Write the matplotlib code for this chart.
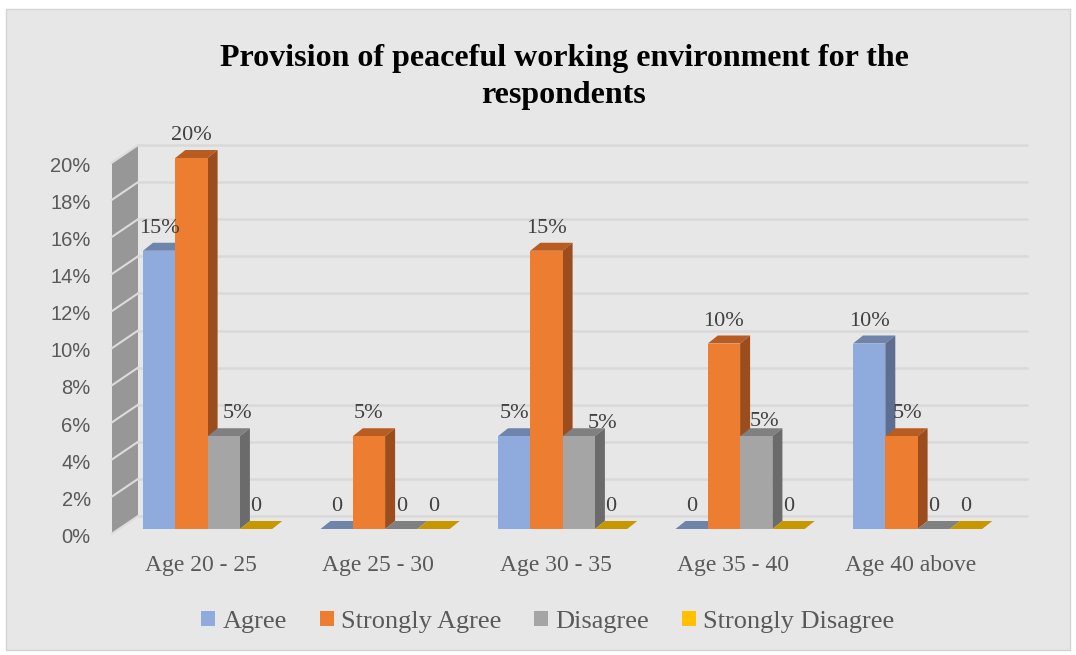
import matplotlib
matplotlib.use("Agg")
import matplotlib.pyplot as plt
from matplotlib.patches import Polygon, Rectangle, Patch

categories = ["Age 20 - 25", "Age 25 - 30", "Age 30 - 35", "Age 35 - 40", "Age 40 above"]
series_names = ["Agree", "Strongly Agree", "Disagree", "Strongly Disagree"]
agree = [15, 0, 5, 0, 10]
strongly_agree = [20, 5, 15, 10, 5]
disagree = [5, 0, 5, 5, 0]
strongly_disagree = [0, 0, 0, 0, 0]
yticks = [0, 2, 4, 6, 8, 10, 12, 14, 16, 18, 20]

series = [agree, strongly_agree, disagree, strongly_disagree]

# front / top / side shades for the fake 3d look
front = ["#8faadc", "#ed7d31", "#a5a5a5", "#ffc000"]
top = ["#6f84ab", "#b95c22", "#808080", "#c79700"]
side = ["#5d6e91", "#9b4d1d", "#6b6b6b", "#a67e00"]

# a few labels that Excel pushed aside (pixels)
label_nudge = {(0, 2): (14, 0), (2, 2): (24, -10), (3, 2): (8, -8), (4, 1): (6, 0)}

W, H = 1076, 655
fig = plt.figure(figsize=(W / 100, H / 100), dpi=100)
fig.patch.set_facecolor("white")
fig.patches.append(Rectangle((6 / W, 5 / H), 1064 / W, 641 / H, transform=fig.transFigure,
                             facecolor="#e7e7e7", edgecolor="#d4d4d4", lw=1, zorder=-1))

# axes mapped so that one group = 177.5 px, one percent = 18.55 px
ax = fig.add_axes([40 / W, 95 / H, 1000 / W, 440 / H])
px_x, px_y = 177.5, 18.55
ax.set_xlim((40 - 207.6) / px_x, (1040 - 207.6) / px_x)
ax.set_ylim(-(560 - 529) / px_y, (529 - 120) / px_y)
ax.axis("off")

bw = 0.182
ddx, ddy = 10 / px_x, 8 / px_y          # bar depth
wall_front, wall_back = -0.25, 0.70     # y shift of front/back planes
wx0, wx1 = (112 - 207.6) / px_x, (138 - 207.6) / px_x
x_end = (1027 - 207.6) / px_x

# left wall
ax.add_patch(Polygon([(wx0, wall_front), (wx1, wall_back), (wx1, 20 + wall_back),
                      (wx0, 20 + wall_front)], closed=True, facecolor="#979797",
                     edgecolor="none", zorder=1, clip_on=False))
for v in yticks:
    ax.plot([wx0, wx1], [v + wall_front, v + wall_back], color="#dcdcdc", lw=1.5, zorder=2)
    ax.plot([wx1, x_end], [v + wall_back, v + wall_back], color="#d9d9d9", lw=1.8, zorder=1)
    ax.text(wx0 - 0.12, v - 0.45, f"{v}%", ha="right", va="center", fontsize=14.5,
            family="Liberation Sans", color="#595959")

z = 3
for i in range(len(categories)):
    for j, vals in enumerate(series):
        v = vals[i]
        xl = i - 2 * bw + j * bw
        # top face
        ax.add_patch(Polygon([(xl, v), (xl + bw, v), (xl + bw + ddx, v + ddy), (xl + ddx, v + ddy)],
                             closed=True, facecolor=top[j], edgecolor="none", zorder=z))
        if v > 0:
            ax.add_patch(Polygon([(xl + bw, 0), (xl + bw, v), (xl + bw + ddx, v + ddy),
                                  (xl + bw + ddx, ddy)], closed=True, facecolor=side[j],
                                 edgecolor="none", zorder=z))
            ax.bar(xl, v, width=bw, align="edge", color=front[j], zorder=z + 0.5)
        z += 1
        lbl = f"{v}%" if v > 0 else "0"
        nx, ny = label_nudge.get((i, j), (0, 0))
        ax.annotate(lbl, (xl + bw / 2, v + 1.2), xytext=(nx, ny), textcoords="offset pixels",
                    ha="center", va="center", fontsize=16, family="Liberation Serif",
                    color="#404040", zorder=100)
    ax.text(i - 0.04, -1.95, categories[i], ha="center", va="center", fontsize=17,
            family="Liberation Serif", color="#595959", clip_on=False)

fig.text(564 / W, 1 - 77 / H, "Provision of peaceful working environment for the\nrespondents",
         ha="center", va="center", fontsize=23, fontweight="bold", family="Liberation Serif",
         color="black", linespacing=1.36)

handles = [Patch(facecolor=front[j], edgecolor="none", label=series_names[j]) for j in range(4)]
fig.legend(handles=handles, loc="center", bbox_to_anchor=(548 / W, 1 - 622 / H), ncol=4,
           frameon=False, prop={"family": "Liberation Serif", "size": 19}, labelcolor="#595959",
           handlelength=0.53, handleheight=0.53, handletextpad=0.27, columnspacing=1.25)

fig.savefig("out.png", dpi=100)
